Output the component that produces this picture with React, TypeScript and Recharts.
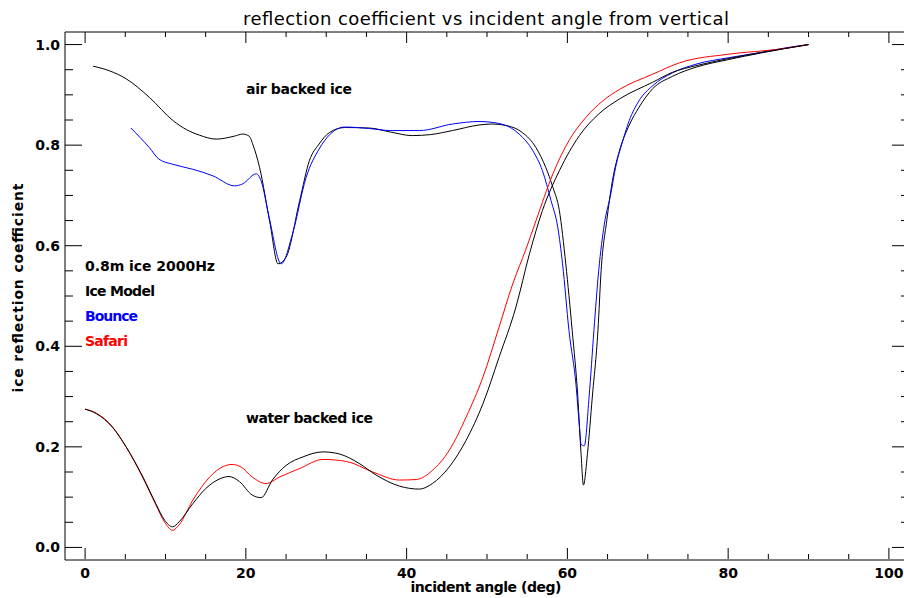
import React from "react";
import { LineChart, Line, XAxis, YAxis } from "recharts";

// ---- data (angle in deg, reflection coefficient) ----
const modelAirAngle = [1, 3, 5.1, 8, 11, 12.6, 14.2, 16.3, 18.6, 19.6, 20.4, 20.9, 21.7, 23, 24, 25, 26.7, 27.9, 29.1, 30.4, 32.3, 35.4, 38, 40.7, 43, 45.7, 49, 50.5, 52.4, 54.4, 56.1, 57.3, 58.2, 59, 59.8, 60.6, 61.3, 61.7, 62, 62.5, 63.1, 63.8, 64.2, 64.9, 65.6, 66.5, 67.7, 68.9, 70.6, 73.1, 76, 80, 84, 87, 90];
const modelAirR = [0.957, 0.948, 0.932, 0.895, 0.848, 0.831, 0.82, 0.812, 0.818, 0.822, 0.818, 0.8, 0.756, 0.645, 0.564, 0.577, 0.69, 0.769, 0.802, 0.825, 0.835, 0.834, 0.826, 0.819, 0.821, 0.829, 0.84, 0.842, 0.839, 0.825, 0.795, 0.756, 0.716, 0.67, 0.564, 0.431, 0.299, 0.187, 0.124, 0.187, 0.299, 0.431, 0.551, 0.65, 0.729, 0.79, 0.84, 0.875, 0.912, 0.937, 0.955, 0.97, 0.983, 0.992, 1.0];

const bounceAirAngle = [5.7, 8, 9.2, 10.9, 13.4, 15.9, 18.6, 19.6, 21.3, 21.9, 22.9, 24.4, 25.8, 27.5, 29.1, 30.5, 32.3, 35.4, 38, 41.6, 45.7, 49, 51.5, 54, 55.7, 56.9, 57.96, 58.8, 59.4, 60.2, 61.1, 61.5, 61.7, 62.1, 62.7, 63.3, 63.9, 64.6, 65.4, 66, 66.9, 67.7, 68.9, 70.6, 73.1, 76, 80.1, 84.3, 87, 90];
const bounceAirR = [0.834, 0.795, 0.772, 0.762, 0.752, 0.739, 0.719, 0.723, 0.743, 0.729, 0.656, 0.564, 0.623, 0.736, 0.792, 0.822, 0.836, 0.833, 0.829, 0.829, 0.842, 0.847, 0.843, 0.822, 0.789, 0.749, 0.69, 0.637, 0.564, 0.431, 0.319, 0.239, 0.205, 0.202, 0.299, 0.431, 0.551, 0.643, 0.703, 0.756, 0.809, 0.849, 0.888, 0.918, 0.944, 0.961, 0.974, 0.985, 0.993, 1.0];

const modelWaterAngle = [0, 1.4, 3.4, 5.1, 7.2, 8.8, 9.9, 10.9, 11.7, 13.4, 15, 16.7, 17.9, 19.2, 20.8, 21.9, 23.3, 25, 27.1, 29.6, 31.6, 34.1, 36.2, 39.1, 41.6, 43.2, 45.3, 47.4, 49.5, 51.5, 53.6, 55.3, 56.9, 59, 61.5, 63.9, 66.5, 70.6, 73.1, 76, 80, 84, 87, 90];
const modelWaterR = [0.275, 0.266, 0.239, 0.2, 0.14, 0.087, 0.054, 0.041, 0.051, 0.087, 0.117, 0.136, 0.141, 0.131, 0.104, 0.099, 0.134, 0.163, 0.18, 0.19, 0.186, 0.167, 0.144, 0.122, 0.116, 0.127, 0.16, 0.213, 0.286, 0.378, 0.478, 0.585, 0.67, 0.749, 0.819, 0.862, 0.892, 0.925, 0.945, 0.958, 0.972, 0.984, 0.992, 1.0];

const safariWaterAngle = [0, 1.4, 3.4, 5.1, 7.2, 8.8, 9.9, 10.9, 11.7, 13.4, 15.5, 17.2, 18.3, 19.4, 20.8, 22.5, 24.2, 26.7, 29.6, 32.5, 35.8, 39.1, 41.2, 43.2, 45.3, 47.4, 49.5, 51.5, 53.2, 54.8, 56.1, 58.2, 60.2, 62.3, 64.4, 66.5, 70.6, 74, 80.1, 86.4, 90];
const safariWaterR = [0.275, 0.267, 0.24, 0.2, 0.138, 0.085, 0.05, 0.034, 0.045, 0.094, 0.14, 0.161, 0.165, 0.16, 0.14, 0.127, 0.14, 0.157, 0.175, 0.171, 0.15, 0.134, 0.135, 0.153, 0.193, 0.259, 0.339, 0.438, 0.524, 0.591, 0.65, 0.743, 0.809, 0.855, 0.888, 0.911, 0.941, 0.964, 0.981, 0.991, 1.0];

const xTicks = [0, 5, 10, 15, 20, 25, 30, 35, 40, 45, 50, 55, 60, 65, 70, 75, 80, 85, 90, 95, 100];
const yTicks = [0, 0.05, 0.1, 0.15, 0.2, 0.25, 0.3, 0.35, 0.4, 0.45, 0.5, 0.55, 0.6, 0.65, 0.7, 0.75, 0.8, 0.85, 0.9, 0.95, 1.0];

const titleText = "reflection coefficient vs incident angle from vertical";
const xLabel = "incident angle (deg)";
const yLabel = "ice reflection coefficient";
const legendItems = [
  { text: "0.8m ice 2000Hz", color: "#000000", len: 130 },
  { text: "Ice Model", color: "#000000", len: 70 },
  { text: "Bounce", color: "#0000ff", len: 53 },
  { text: "Safari", color: "#ff0000", len: 43 },
];

const toPts = (a: number[], r: number[]) => a.map((x, i) => ({ a: x, r: r[i] }));
const modelAir = toPts(modelAirAngle, modelAirR);
const bounceAir = toPts(bounceAirAngle, bounceAirR);
const modelWater = toPts(modelWaterAngle, modelWaterR);
const safariWater = toPts(safariWaterAngle, safariWaterR);

const FONT = "'DejaVu Sans', sans-serif";

const isMajorX = (v: number) => Math.abs(v % 20) < 1e-6;
const isMajorY = (v: number) => Math.abs(v * 5 - Math.round(v * 5)) < 1e-6;

const BottomTick = (props: any) => {
  const { x, payload } = props;
  const y = props.y - 1;
  const v = payload.value;
  const major = isMajorX(v);
  return (
    <g>
      <line x1={x} y1={y} x2={x} y2={y - (major ? 11 : 5)} stroke="#000" strokeWidth={1} />
      {major && (
        <text x={x} y={y + 19} textAnchor="middle" fontFamily={FONT} fontWeight="bold" fontSize={14} fill="#000">
          {v}
        </text>
      )}
    </g>
  );
};

const TopTick = (props: any) => {
  const { x, y, payload } = props;
  const major = isMajorX(payload.value);
  return <line x1={x} y1={y} x2={x} y2={y + (major ? 11 : 5)} stroke="#000" strokeWidth={1} />;
};

const LeftTick = (props: any) => {
  const { x, y, payload } = props;
  const v = payload.value;
  const major = isMajorY(v);
  return (
    <g>
      <line x1={x} y1={y} x2={x + (major ? 17 : 8)} y2={y} stroke="#000" strokeWidth={1} />
      {major && (
        <text x={x - 5} y={y + 5} textAnchor="end" fontFamily={FONT} fontWeight="bold" fontSize={14} fill="#000">
          {v.toFixed(1)}
        </text>
      )}
    </g>
  );
};

const RightTick = (props: any) => {
  const { x, y, payload } = props;
  const major = isMajorY(payload.value);
  return <line x1={x} y1={y} x2={x - (major ? 17 : 8)} y2={y} stroke="#000" strokeWidth={1} />;
};

export default function App() {
  return (
    <div style={{ position: "absolute", left: 0, top: 0, width: 904, height: 598, overflow: "hidden", background: "#fff" }}>
      <LineChart width={910} height={598} margin={{ top: 31, right: 0, bottom: 37, left: 64 }}>
        <XAxis
          xAxisId={0}
          dataKey="a"
          type="number"
          domain={[-2.5, 102.5]}
          ticks={xTicks}
          interval={0}
          allowDataOverflow
          height={1}
          tickSize={0}
          tickMargin={0}
          tickLine={false}
          tick={<BottomTick />}
          axisLine={{ stroke: "#000", strokeWidth: 1 }}
        />
        <XAxis
          xAxisId="top"
          orientation="top"
          dataKey="a"
          type="number"
          domain={[-2.5, 102.5]}
          ticks={xTicks}
          interval={0}
          allowDataOverflow
          height={1}
          tickSize={0}
          tickMargin={0}
          tickLine={false}
          tick={<TopTick />}
          axisLine={{ stroke: "#000", strokeWidth: 1 }}
        />
        <YAxis
          yAxisId={0}
          type="number"
          domain={[-0.025, 1.025]}
          ticks={yTicks}
          interval={0}
          allowDataOverflow
          width={1}
          tickSize={0}
          tickMargin={0}
          tickLine={false}
          tick={<LeftTick />}
          axisLine={{ stroke: "#000", strokeWidth: 1 }}
        />
        <YAxis
          yAxisId="right"
          orientation="right"
          type="number"
          domain={[-0.025, 1.025]}
          ticks={yTicks}
          interval={0}
          allowDataOverflow
          width={1}
          tickSize={0}
          tickMargin={0}
          tickLine={false}
          tick={<RightTick />}
          axisLine={{ stroke: "#000", strokeWidth: 1 }}
        />
        <Line data={modelAir} dataKey="r" xAxisId={0} yAxisId={0} type="monotone" stroke="#000000" strokeWidth={1} dot={false} isAnimationActive={false} />
        <Line data={bounceAir} dataKey="r" xAxisId={0} yAxisId={0} type="monotone" stroke="#0000ff" strokeWidth={1} dot={false} isAnimationActive={false} />
        <Line data={safariWater} dataKey="r" xAxisId={0} yAxisId={0} type="monotone" stroke="#ff0000" strokeWidth={1} dot={false} isAnimationActive={false} />
        <Line data={modelWater} dataKey="r" xAxisId={0} yAxisId={0} type="monotone" stroke="#000000" strokeWidth={1} dot={false} isAnimationActive={false} />
      </LineChart>
      <svg width={904} height={598} style={{ position: "absolute", left: 0, top: 0, pointerEvents: "none" }}>
        <text x={486} y={25} textAnchor="middle" fontFamily={FONT} fontSize={18} fill="#000" textLength={486} lengthAdjust="spacing">
          {titleText}
        </text>
        <text x={486} y={592} textAnchor="middle" fontFamily={FONT} fontWeight="bold" fontSize={14} fill="#000" textLength={151} lengthAdjust="spacing">
          {xLabel}
        </text>
        <text
          x={0}
          y={0}
          transform="translate(23,288) rotate(-90)"
          textAnchor="middle"
          fontFamily={FONT}
          fontWeight="bold"
          fontSize={14}
          fill="#000"
          textLength={209}
          lengthAdjust="spacing"
        >
          {yLabel}
        </text>
        <text x={246} y={94} fontFamily={FONT} fontWeight="bold" fontSize={14} fill="#000" textLength={106} lengthAdjust="spacing">
          air backed ice
        </text>
        <text x={246} y={423} fontFamily={FONT} fontWeight="bold" fontSize={14} fill="#000" textLength={127} lengthAdjust="spacing">
          water backed ice
        </text>
        {legendItems.map((it, i) => (
          <text key={it.text} x={85} y={271 + i * 25} fontFamily={FONT} fontWeight="bold" fontSize={14} fill={it.color} textLength={it.len} lengthAdjust="spacing">
            {it.text}
          </text>
        ))}
      </svg>
    </div>
  );
}
